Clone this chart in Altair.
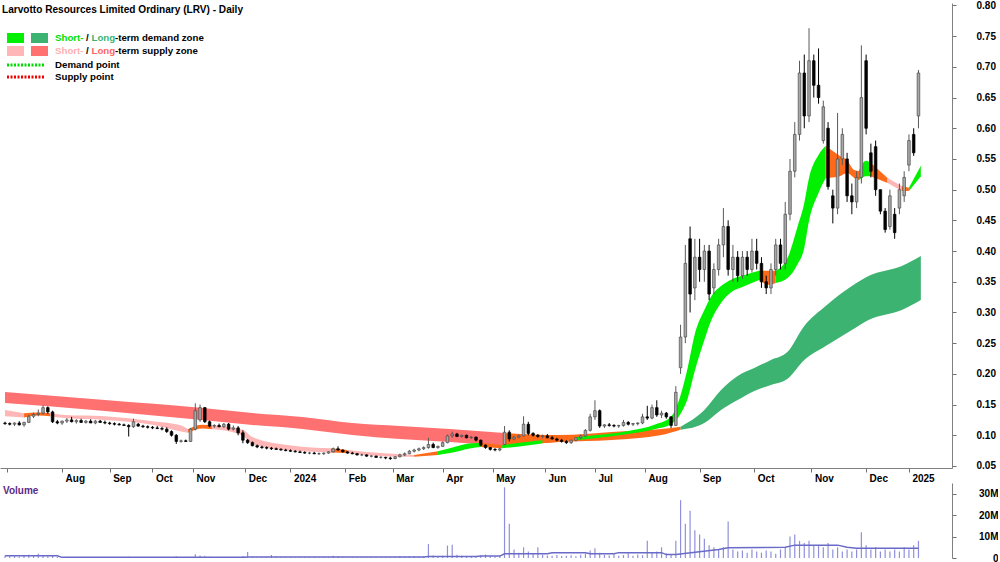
import altair as alt
import pandas as pd
import json

FONT = "Liberation Sans"

# ---------------- data ----------------
# bar index (every second trading bar)
T = list(range(0, 385, 2))

O = [0.120,0.119,0.118,0.120,0.117,0.121,0.131,0.134,0.136,0.145,0.138,
     0.122,0.120,0.123,0.125,0.122,0.124,0.121,0.123,0.120,0.123,0.121,0.120,0.119,0.118,0.117,
     0.116,0.114,0.118,0.115,0.114,0.113,0.112,0.111,0.110,0.106,0.100,0.090,0.091,0.090,
     0.110,0.125,0.145,0.122,0.115,0.116,0.114,0.118,0.110,0.112,0.104,
     0.092,0.088,0.083,0.081,0.080,0.079,0.078,0.077,0.076,0.075,0.074,0.073,0.072,0.071,0.071,
     0.070,0.070,0.071,0.073,0.078,0.076,0.073,0.071,0.070,0.068,0.068,0.066,0.066,0.064,0.064,
     0.063,0.062,0.065,0.068,0.070,0.074,0.076,0.078,
     0.080,0.085,0.080,0.082,0.088,0.099,0.102,0.098,0.100,0.096,0.097,0.092,0.084,0.080,0.077,0.076,
     0.085,0.105,0.094,0.097,0.099,0.118,0.103,0.100,0.098,0.099,0.096,0.094,0.092,0.090,0.088,0.092,
     0.096,0.099,0.108,0.130,0.140,0.115,0.117,0.116,0.115,0.116,0.121,0.118,0.119,0.120,0.130,0.128,0.145,0.133,0.136,0.130,
     0.116,0.210,0.260,0.420,0.340,0.390,0.370,0.400,0.340,0.370,0.410,0.440,0.370,0.390,0.360,0.390,0.370,0.400,0.380,0.350,0.340,0.370,0.410,
     0.380,0.460,0.530,0.590,0.690,0.620,0.710,0.670,0.580,0.600,0.490,0.470,0.550,0.550,0.490,0.480,0.520,0.710,0.560,0.570,0.500,0.465,0.440,0.460,0.470,0.490,0.540,0.590,0.620]
H = [0.122,0.121,0.121,0.123,0.122,0.133,0.137,0.142,0.149,0.147,0.140,
     0.125,0.124,0.128,0.130,0.126,0.127,0.125,0.126,0.125,0.125,0.124,0.122,0.121,0.120,0.119,
     0.118,0.127,0.120,0.117,0.116,0.115,0.115,0.114,0.113,0.108,0.102,0.093,0.093,0.112,
     0.152,0.150,0.146,0.124,0.118,0.119,0.120,0.120,0.116,0.115,0.108,
     0.094,0.090,0.085,0.083,0.082,0.081,0.080,0.079,0.078,0.077,0.076,0.075,0.074,0.073,0.073,
     0.072,0.072,0.074,0.080,0.082,0.077,0.074,0.073,0.071,0.070,0.069,0.068,0.067,0.066,0.065,
     0.065,0.066,0.070,0.072,0.076,0.078,0.080,0.082,
     0.096,0.088,0.083,0.090,0.101,0.106,0.104,0.101,0.101,0.099,0.098,0.093,0.085,0.081,0.079,0.079,
     0.115,0.108,0.099,0.101,0.131,0.122,0.105,0.102,0.101,0.102,0.099,0.096,0.094,0.092,0.093,0.097,
     0.101,0.110,0.135,0.157,0.142,0.118,0.120,0.118,0.117,0.125,0.123,0.120,0.121,0.135,0.148,0.150,0.157,0.140,0.138,0.131,
     0.180,0.280,0.410,0.440,0.420,0.420,0.410,0.410,0.380,0.420,0.470,0.450,0.410,0.400,0.400,0.400,0.420,0.420,0.390,0.360,0.380,0.420,0.420,
     0.480,0.550,0.610,0.710,0.720,0.763,0.720,0.730,0.645,0.610,0.500,0.625,0.600,0.560,0.510,0.530,0.735,0.720,0.575,0.580,0.500,0.470,0.500,0.470,0.510,0.530,0.590,0.600,0.695]
L = [0.117,0.116,0.115,0.116,0.114,0.120,0.128,0.131,0.134,0.135,0.120,
     0.118,0.117,0.120,0.121,0.119,0.120,0.119,0.120,0.118,0.120,0.118,0.117,0.116,0.116,0.115,
     0.098,0.112,0.114,0.112,0.111,0.110,0.110,0.108,0.104,0.098,0.086,0.088,0.089,0.089,
     0.108,0.122,0.120,0.113,0.112,0.113,0.112,0.108,0.108,0.100,0.087,
     0.086,0.082,0.079,0.078,0.077,0.076,0.076,0.075,0.074,0.073,0.072,0.071,0.070,0.069,0.069,
     0.068,0.068,0.070,0.072,0.075,0.072,0.070,0.069,0.067,0.066,0.065,0.064,0.063,0.062,0.061,
     0.060,0.061,0.064,0.066,0.069,0.072,0.074,0.076,
     0.078,0.079,0.078,0.081,0.087,0.096,0.097,0.096,0.095,0.094,0.090,0.082,0.078,0.075,0.074,0.074,
     0.084,0.090,0.092,0.095,0.098,0.100,0.098,0.096,0.095,0.095,0.093,0.090,0.088,0.086,0.086,0.090,
     0.094,0.098,0.106,0.125,0.112,0.112,0.114,0.113,0.112,0.114,0.116,0.115,0.116,0.118,0.125,0.126,0.130,0.128,0.127,0.112,
     0.115,0.200,0.250,0.300,0.320,0.350,0.350,0.320,0.330,0.360,0.390,0.360,0.350,0.350,0.355,0.360,0.365,0.370,0.340,0.330,0.330,0.360,0.370,
     0.370,0.450,0.520,0.580,0.600,0.610,0.650,0.640,0.575,0.500,0.445,0.460,0.540,0.480,0.460,0.470,0.510,0.590,0.520,0.490,0.460,0.430,0.435,0.420,0.460,0.480,0.530,0.555,0.600]
C = [0.119,0.118,0.120,0.117,0.121,0.131,0.134,0.136,0.145,0.138,0.122,
     0.120,0.123,0.125,0.122,0.124,0.121,0.123,0.120,0.123,0.121,0.120,0.119,0.118,0.117,0.116,
     0.114,0.122,0.115,0.114,0.113,0.112,0.111,0.110,0.106,0.100,0.090,0.091,0.090,0.110,
     0.140,0.145,0.122,0.115,0.116,0.114,0.118,0.110,0.112,0.104,0.092,
     0.088,0.083,0.081,0.080,0.079,0.078,0.077,0.076,0.075,0.074,0.073,0.072,0.071,0.071,0.070,
     0.070,0.071,0.073,0.078,0.076,0.073,0.071,0.070,0.068,0.068,0.066,0.066,0.064,0.064,0.063,
     0.062,0.065,0.068,0.070,0.074,0.076,0.078,0.080,
     0.085,0.080,0.082,0.088,0.099,0.102,0.098,0.100,0.096,0.097,0.092,0.084,0.080,0.077,0.076,0.078,
     0.105,0.094,0.097,0.099,0.118,0.103,0.100,0.098,0.099,0.096,0.094,0.092,0.090,0.088,0.092,0.096,
     0.099,0.108,0.130,0.140,0.115,0.117,0.116,0.115,0.116,0.121,0.118,0.119,0.120,0.130,0.128,0.145,0.133,0.136,0.130,0.116,
     0.170,0.260,0.380,0.330,0.390,0.370,0.400,0.330,0.370,0.410,0.440,0.370,0.390,0.360,0.390,0.370,0.400,0.380,0.350,0.340,0.370,0.410,0.380,
     0.460,0.530,0.590,0.690,0.620,0.710,0.670,0.650,0.635,0.505,0.470,0.550,0.590,0.490,0.480,0.520,0.650,0.600,0.530,0.500,0.465,0.435,0.490,0.430,0.500,0.520,0.580,0.560,0.690]

# volume, millions
VOL = [1.0,0.8,1.2,0.6,0.9,1.5,1.2,2.0,1.0,0.8,1.3,
       0.5,0.4,0.6,0.3,0.5,0.4,0.3,0.6,0.4,0.3,0.5,0.3,0.4,0.3,0.2,
       0.6,0.4,0.2,0.3,0.2,0.3,0.2,0.3,0.4,0.3,0.8,0.3,0.2,0.5,
       1.8,1.2,1.0,0.6,0.4,0.3,0.4,0.3,0.5,0.4,0.9,
       2.8,0.6,0.4,0.3,0.5,1.4,0.6,0.3,0.2,0.3,0.2,0.3,0.4,0.2,0.3,
       0.2,0.3,0.4,1.0,0.8,0.3,0.2,0.3,0.2,0.3,0.2,0.4,0.3,0.2,0.3,
       0.3,0.5,0.8,0.6,0.7,0.9,0.6,0.8,
       6.5,1.2,0.8,1.0,5.8,6.2,1.5,1.0,0.8,0.9,0.7,1.2,1.6,0.8,0.6,0.9,
       33.0,16.0,4.0,2.5,5.0,3.0,2.0,5.0,1.5,1.2,1.0,1.4,0.9,1.1,1.3,0.8,
       1.5,2.0,3.5,4.5,2.5,1.5,1.2,1.8,1.0,1.4,2.2,1.1,1.6,1.3,8.0,2.5,3.0,5.0,2.2,1.8,
       8.0,27.0,16.0,22.0,13.0,11.0,9.0,6.0,5.0,4.0,5.0,17.0,4.0,3.0,3.5,2.5,4.0,3.0,2.5,3.5,3.0,2.0,4.0,
       5.0,10.0,11.0,8.0,7.0,8.0,6.0,6.0,5.0,7.0,4.0,5.0,3.0,4.0,3.0,4.0,12.0,6.0,4.0,5.0,3.0,4.0,3.0,4.0,3.0,5.0,4.0,6.0,8.0]

# volume moving average (bar index, millions)
VMA_T = [0, 22, 24, 100, 102, 176, 178, 198, 200, 208, 210, 228, 230, 244, 246, 256, 258, 276, 278, 282, 300, 304, 328, 332, 350, 354, 358, 384]
VMA_V = [1.0, 1.0, 0.3, 0.3, 0.45, 0.45, 0.7, 0.7, 0.9, 0.9, 2.0, 2.0, 2.4, 2.4, 2.0, 2.0, 2.5, 2.5, 1.6, 1.6, 4.0, 4.8, 5.0, 6.0, 6.0, 5.0, 4.5, 4.5]

MONTH_IDX = [1, 24, 44, 62, 79, 101, 120, 143, 163, 184, 205, 227, 248, 269, 292, 315, 339, 362, 380]
MONTH_LBL = ["", "Aug", "Sep", "Oct", "Nov", "Dec", "2024", "Feb", "Mar", "Apr", "May", "Jun",
             "Jul", "Aug", "Sep", "Oct", "Nov", "Dec", "2025"]

PRICE_TICKS = [0.05, 0.10, 0.15, 0.20, 0.25, 0.30, 0.35, 0.40, 0.45, 0.50, 0.55, 0.60, 0.65, 0.70, 0.75, 0.80]

PINK = "#FFB6B6"
SALMON = "#FF7070"
ORANGE = "#FF6A1A"
LIME = "#00F000"
DKGREEN = "#3CB371"

# zone bands: (colour, [(bar index, upper, lower), ...])
LONG_ZONES = [
    (SALMON, [(0, 0.1705, 0.1526), (42, 0.1575, 0.1396), (83, 0.1445, 0.1249), (104, 0.1363, 0.1168),
              (125, 0.1298, 0.1103), (146, 0.120, 0.1005), (166, 0.1151, 0.094), (187, 0.1103, 0.0891),
              (210, 0.1037, 0.0826)]),
    (ORANGE, [(210, 0.1037, 0.0826), (233, 0.1005, 0.0891), (255, 0.1054, 0.0923), (276, 0.1103, 0.1005),
              (284, 0.114, 0.109)]),
    (DKGREEN, [(284, 0.114, 0.109), (294, 0.1412, 0.120), (301, 0.1738, 0.1412), (308, 0.1966, 0.1575),
               (315, 0.2096, 0.1722), (322, 0.2226, 0.1819), (329, 0.236, 0.192), (336, 0.278, 0.2226),
               (345, 0.3106, 0.2454), (356, 0.3432, 0.2715), (363, 0.3595, 0.2878), (377, 0.3757, 0.3041),
               (385, 0.392, 0.3204)]),
]
SHORT_ZONES = [
    (PINK, [(0, 0.141, 0.131), (8, 0.136, 0.129)]),
    (ORANGE, [(8, 0.136, 0.129), (14, 0.137, 0.132), (19, 0.136, 0.131)]),
    (PINK, [(19, 0.136, 0.131), (25, 0.133, 0.128), (42, 0.131, 0.125), (62, 0.123, 0.117),
            (73, 0.117, 0.107), (77, 0.110, 0.104)]),
    (ORANGE, [(77, 0.110, 0.104), (83, 0.117, 0.111), (87, 0.116, 0.110)]),
    (PINK, [(87, 0.116, 0.110), (90, 0.115, 0.109), (100, 0.109, 0.099), (104, 0.097, 0.086),
            (121, 0.083, 0.075), (137, 0.079, 0.072)]),
    (ORANGE, [(137, 0.079, 0.072), (144, 0.076, 0.071)]),
    (PINK, [(144, 0.076, 0.071), (158, 0.071, 0.066), (172, 0.068, 0.065)]),
    (ORANGE, [(172, 0.068, 0.065), (182, 0.074, 0.068)]),
    (LIME, [(182, 0.074, 0.068), (187, 0.079, 0.071), (196, 0.087, 0.079), (200, 0.088, 0.081)]),
    (ORANGE, [(200, 0.088, 0.081), (209, 0.084, 0.079)]),
    (LIME, [(209, 0.084, 0.079), (221, 0.090, 0.084), (226, 0.092, 0.087)]),
    (ORANGE, [(226, 0.092, 0.087), (240, 0.097, 0.092)]),
    (LIME, [(240, 0.097, 0.092), (248, 0.100, 0.095), (262, 0.107, 0.102), (273, 0.117, 0.110),
            (280, 0.130, 0.118), (284, 0.165, 0.135), (287, 0.210, 0.160), (290, 0.265, 0.205),
            (294, 0.304, 0.255), (297, 0.327, 0.288), (301, 0.343, 0.3155), (305, 0.353, 0.332),
            (311, 0.361, 0.343), (317, 0.368, 0.353)]),
    (ORANGE, [(317, 0.368, 0.353), (321, 0.368, 0.345), (324, 0.368, 0.348)]),
    (LIME, [(324, 0.368, 0.348), (329, 0.389, 0.356), (333, 0.4376, 0.3774), (336, 0.478, 0.405),
            (338, 0.519, 0.449), (342, 0.5565, 0.4946), (345, 0.571, 0.519)]),
    (ORANGE, [(345, 0.571, 0.519), (351, 0.555, 0.522), (354, 0.548, 0.527), (357, 0.532, 0.519),
              (359, 0.5305, 0.5158)]),
    (LIME, [(359, 0.5305, 0.5158), (362, 0.547, 0.522), (364, 0.5435, 0.522)]),
    (ORANGE, [(364, 0.5435, 0.522), (371, 0.519, 0.511)]),
    (PINK, [(371, 0.519, 0.511), (377, 0.506, 0.498)]),
    (ORANGE, [(377, 0.506, 0.498), (380, 0.503, 0.498)]),
    (LIME, [(380, 0.503, 0.498), (385, 0.539, 0.522)]),
]

# ---------------- tables ----------------
assert len(T) == len(O) == len(H) == len(L) == len(C) == len(VOL)
cdf = pd.DataFrame({"t": T, "o": O, "h": H, "l": L, "c": C})
up = cdf["c"] >= cdf["o"]
cdf["fill"] = ["#A8A8A8" if u else "#000000" for u in up]
cdf["edge"] = ["#4A4A4A" if u else "#000000" for u in up]
cdf["wick"] = ["#5A5A5A" if u else "#000000" for u in up]

rows = []
seg = 0
for group in (LONG_ZONES, SHORT_ZONES):
    for col, pts in group:
        for t, hi, lo in pts:
            rows.append({"seg": seg, "col": col, "t": t, "hi": hi, "lo": lo})
        seg += 1
bdf = pd.DataFrame(rows)

vdf = pd.DataFrame({"t": T, "v": VOL})
madf = pd.DataFrame({"t": VMA_T, "v": VMA_V})

# ---------------- scales / axes ----------------
W = 952
xs = alt.Scale(domain=[0, 396], nice=False, zero=False)
ys = alt.Scale(domain=[0.0467, 0.804], nice=False, zero=False)

label_expr = f"{json.dumps(MONTH_LBL)}[indexof({json.dumps(MONTH_IDX)}, datum.value)]"
xaxis = alt.Axis(values=MONTH_IDX, labelExpr=label_expr, title="", grid=False,
                 tickSize=4, tickColor="#707070", domainColor="#808080",
                 labelAlign="left", labelOffset=3, labelPadding=1, labelFlush=False,
                 labelOverlap=False, labelBound=False,
                 labelFont=FONT, labelFontSize=10, labelFontWeight="bold", labelColor="#000000")
yaxis = alt.Axis(orient="right", values=PRICE_TICKS, format=".2f", title="", grid=False,
                 tickSize=4, tickColor="#707070", domainColor="#808080",
                 labelPadding=20, labelFont=FONT, labelFontSize=10, labelFontWeight="bold",
                 labelColor="#000000", labelOverlap=False, labelBound=False)

X = alt.X("t:Q", scale=xs, axis=xaxis)

bands = alt.Chart(bdf).mark_area(interpolate="monotone", clip=True).encode(
    x=X,
    y=alt.Y("hi:Q", scale=ys, axis=yaxis),
    y2="lo:Q",
    color=alt.Color("col:N", scale=None),
    detail="seg:N",
)
wicks = alt.Chart(cdf).mark_rule(strokeWidth=1, clip=True).encode(
    x=X, y=alt.Y("l:Q", scale=ys, axis=yaxis), y2="h:Q",
    color=alt.Color("wick:N", scale=None),
)
bodies = alt.Chart(cdf).mark_bar(size=2.6, strokeWidth=0.7, clip=True).encode(
    x=X, y=alt.Y("o:Q", scale=ys, axis=yaxis), y2="c:Q",
    fill=alt.Fill("fill:N", scale=None),
    stroke=alt.Stroke("edge:N", scale=None),
)

dummy = pd.DataFrame({"a": [0]})
LSIZE = 9.7


def txt(s, x, y, color="#000000", size=LSIZE):
    return alt.Chart(dummy).mark_text(text=s, align="left", baseline="middle", font=FONT,
                                      fontSize=size, fontWeight="bold", color=color).encode(
        x=alt.value(x), y=alt.value(y))


def box(x1, x2, y1, y2, color):
    return alt.Chart(dummy).mark_rect(color=color).encode(
        x=alt.value(x1), x2=alt.value(x2), y=alt.value(y1), y2=alt.value(y2))


def dots(y, color):
    return alt.Chart(dummy).mark_rule(color=color, strokeWidth=3, strokeDash=[2, 1.5]).encode(
        x=alt.value(7), x2=alt.value(45), y=alt.value(y))


legend = [
    txt("Larvotto Resources Limited Ordinary (LRV) - Daily", 2, 7, size=10.1),
    box(7, 24, 30, 40, LIME), box(31, 48, 30, 40, DKGREEN),
    box(7, 24, 43, 53, PINK), box(31, 48, 43, 53, SALMON),
    txt("Short-", 55, 35, "#00E000"), txt("/", 86, 35), txt("Long", 91.5, 35, DKGREEN),
    txt("-term demand zone", 115, 35),
    txt("Short-", 55, 48, "#FFB0B0"), txt("/", 86, 48), txt("Long", 91.5, 48, "#FF6464"),
    txt("-term supply zone", 115, 48),
    dots(62, "#00DD00"), txt("Demand point", 55, 62),
    dots(74, "#EE0000"), txt("Supply point", 55, 74),
]

price = alt.layer(bands, wicks, bodies, *legend).properties(width=W, height=465)

vaxis = alt.Axis(orient="right", values=[0, 10, 20, 30],
                 labelExpr="datum.value == 0 ? '0' : datum.value + 'M'", title="", grid=False,
                 tickSize=4, tickColor="#707070", domainColor="#808080",
                 labelAlign="right", labelPadding=42, labelFont=FONT, labelFontSize=10,
                 labelFontWeight="bold", labelColor="#000000")
vs = alt.Scale(domain=[0, 35], nice=False, zero=True)
XV = alt.X("t:Q", scale=xs, axis=None)

vbars = alt.Chart(vdf).mark_bar(size=1.2, color="#9090DA", clip=True).encode(
    x=XV, y=alt.Y("v:Q", scale=vs, axis=vaxis))
vma = alt.Chart(madf).mark_line(color="#6A6AC8", strokeWidth=1.5, clip=True).encode(
    x=XV, y=alt.Y("v:Q", scale=vs, axis=vaxis))
vtitle = txt("Volume", 3, 8, "#5B2A86", size=10)

volume = alt.layer(vbars, vma, vtitle).properties(width=W, height=75)

chart = alt.vconcat(price, volume, spacing=0).properties(
    padding={"left": 0, "top": 0, "right": 0, "bottom": 0},
    background="#FFFFFF",
).configure_view(stroke=None)

chart.save("out.html", embed_options={"renderer": "svg", "actions": False})
